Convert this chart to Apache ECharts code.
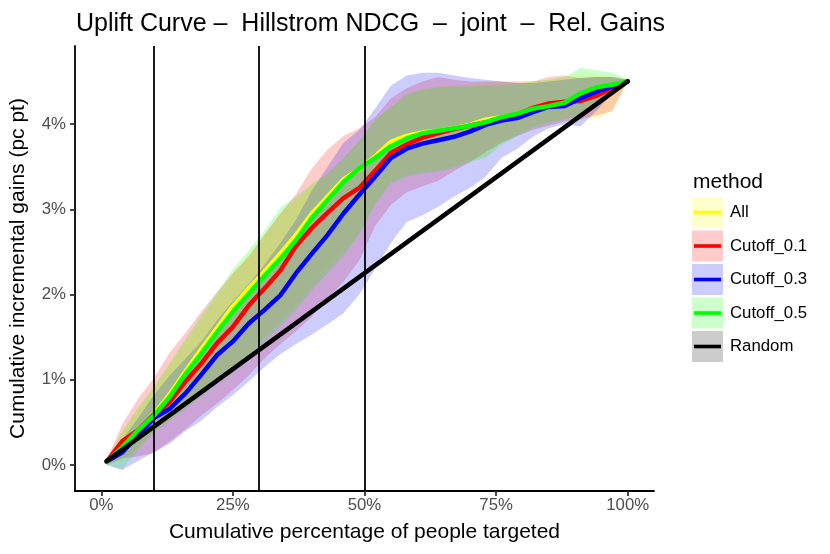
<!DOCTYPE html>
<html><head><meta charset="utf-8">
<script src="https://cdn.jsdelivr.net/npm/echarts@6/dist/echarts.min.js"></script>
<style>html,body{margin:0;padding:0;background:#fff}#c{width:830px;height:554px}</style>
</head><body><div id="c"></div>
<script>
// ---- data (percent units) ----
const xPct = [1,4,7,10,13,16,19,22,25,28,31,34,37,40,43,46,49,52,55,58,61,64,67,70,73,76,79,82,85,88,91,94,97,100];

const allY    = [0.04,0.22,0.40,0.59,0.83,1.10,1.36,1.61,1.86,2.07,2.27,2.48,2.70,2.95,3.15,3.35,3.47,3.62,3.79,3.86,3.90,3.92,3.95,3.99,4.05,4.08,4.11,4.17,4.20,4.24,4.33,4.41,4.45,4.50];
const cut01Y  = [0.04,0.28,0.41,0.59,0.74,0.98,1.19,1.43,1.62,1.87,2.07,2.28,2.57,2.78,2.96,3.13,3.25,3.45,3.66,3.76,3.84,3.89,3.94,3.98,4.02,4.07,4.11,4.19,4.24,4.26,4.27,4.33,4.42,4.50];
const cut03Y  = [0.04,0.15,0.35,0.55,0.66,0.84,1.06,1.29,1.45,1.66,1.82,1.99,2.25,2.48,2.70,2.95,3.17,3.38,3.60,3.71,3.77,3.81,3.85,3.91,3.99,4.04,4.07,4.14,4.20,4.21,4.30,4.38,4.44,4.50];
const cut05Y  = [0.04,0.21,0.41,0.58,0.80,1.07,1.31,1.56,1.80,2.01,2.22,2.42,2.64,2.90,3.11,3.32,3.48,3.60,3.74,3.83,3.89,3.92,3.95,3.98,4.02,4.08,4.12,4.18,4.21,4.25,4.36,4.43,4.46,4.50];

const allUp   = [0.05,0.38,0.65,0.90,1.18,1.45,1.72,1.98,2.25,2.48,2.70,2.95,3.12,3.28,3.42,3.60,3.80,4.05,4.20,4.35,4.42,4.45,4.45,4.46,4.50,4.50,4.48,4.50,4.52,4.54,4.58,4.58,4.56,4.52];
const allLow  = [0.00,0.05,0.20,0.40,0.55,0.70,0.85,1.00,1.12,1.30,1.50,1.68,1.88,2.10,2.30,2.50,2.72,3.08,3.32,3.40,3.45,3.46,3.50,3.57,3.62,3.78,3.88,3.97,4.02,4.06,4.10,4.05,4.15,4.50];
const cut01Up = [0.06,0.48,0.78,1.02,1.32,1.55,1.80,2.03,2.25,2.45,2.70,2.95,3.18,3.48,3.70,3.86,3.95,4.08,4.30,4.42,4.50,4.55,4.52,4.50,4.50,4.50,4.50,4.50,4.55,4.57,4.54,4.55,4.55,4.52];
const cut01Low= [0.00,0.08,0.10,0.14,0.28,0.42,0.58,0.72,0.88,1.05,1.25,1.42,1.57,1.74,1.95,2.15,2.40,2.80,3.05,3.20,3.27,3.33,3.45,3.55,3.67,3.78,3.86,3.93,3.98,4.03,4.05,4.10,4.15,4.50];
const cut03Up = [0.05,0.30,0.55,0.82,1.05,1.25,1.45,1.70,1.92,2.12,2.35,2.60,2.88,3.22,3.50,3.78,3.93,4.18,4.45,4.57,4.60,4.60,4.57,4.54,4.52,4.50,4.48,4.48,4.50,4.52,4.54,4.55,4.55,4.52];
const cut03Low= [0.00,-0.06,0.05,0.15,0.25,0.40,0.52,0.68,0.82,0.98,1.15,1.30,1.42,1.53,1.65,1.78,2.00,2.30,2.60,2.85,2.93,3.03,3.15,3.25,3.38,3.60,3.71,3.85,3.95,4.00,3.97,4.15,4.35,4.50];
const cut05Up = [0.06,0.40,0.68,0.92,1.20,1.48,1.76,2.02,2.30,2.52,2.75,3.02,3.15,3.30,3.42,3.60,3.80,4.05,4.20,4.35,4.40,4.43,4.44,4.44,4.45,4.46,4.47,4.50,4.52,4.55,4.66,4.63,4.60,4.53];
const cut05Low= [0.00,-0.05,0.18,0.38,0.52,0.66,0.80,0.95,1.08,1.25,1.45,1.62,1.82,2.05,2.25,2.45,2.70,3.05,3.30,3.38,3.42,3.44,3.48,3.55,3.60,3.75,3.86,3.95,4.01,4.05,4.10,4.20,4.35,4.50];

const randomX = [1, 100];
const randomY = [0.045, 4.50];

const vLines = [10, 30, 50];
const xTicks = [0, 25, 50, 75, 100];
const yTicks = [0, 1, 2, 3, 4];

const names  = ['All', 'Cutoff_0.1', 'Cutoff_0.3', 'Cutoff_0.5', 'Random'];
const colors = ['#ffff00', '#ff0000', '#0000ff', '#00ff00', '#000000'];
const fills  = ['rgba(255,255,0,0.2)', 'rgba(255,0,0,0.2)', 'rgba(0,0,255,0.2)', 'rgba(0,255,0,0.2)', 'rgba(0,0,0,0.2)'];

const lineData = [allY, cut01Y, cut03Y, cut05Y];
const ups  = [allUp, cut01Up, cut03Up, cut05Up];
const lows = [allLow, cut01Low, cut03Low, cut05Low];

// ---- chart ----
const FONT = 'Liberation Sans, Arial, Helvetica, sans-serif';
const chart = echarts.init(document.getElementById('c'), null, {renderer: 'canvas'});

function ribbon(i) {
  return {
    type: 'custom', name: names[i] + ' band', coordinateSystem: 'cartesian2d',
    data: [[xPct[0], ups[i][0]]], clip: true, silent: true, z: 1, animation: false,
    renderItem: function (params, api) {
      const pts = [];
      for (let k = 0; k < xPct.length; k++) pts.push(api.coord([xPct[k], ups[i][k]]));
      for (let k = xPct.length - 1; k >= 0; k--) pts.push(api.coord([xPct[k], lows[i][k]]));
      return {type: 'polygon', shape: {points: pts}, style: {fill: fills[i], stroke: null}};
    }
  };
}
function line(i, xs, ys) {
  return {
    type: 'line', name: names[i], data: xs.map((x, k) => [x, ys[k]]),
    showSymbol: false, symbol: 'none', z: 3, silent: true, animation: false,
    lineStyle: {color: colors[i], width: 4.5, join: 'round', cap: 'round'}
  };
}

const series = [];
for (let i = 0; i < 4; i++) series.push(ribbon(i));
series.push({
  type: 'line', name: 'vlines', data: [], z: 2, silent: true, animation: false,
  markLine: {
    silent: true, animation: false, symbol: ['none', 'none'], label: {show: false},
    lineStyle: {color: '#000', width: 1.8, type: 'solid'},
    data: vLines.map(v => ({xAxis: v}))
  }
});
for (let i = 0; i < 4; i++) series.push(line(i, xPct, lineData[i]));
series.push(line(4, randomX, randomY));

// legend built as graphic
const legendEls = [];
legendEls.push({type: 'text', left: 693, top: 172, style: {text: 'method', font: '21px ' + FONT, fill: '#000'}});
for (let i = 0; i < names.length; i++) {
  const y0 = 197 + 33.5 * i;
  legendEls.push({type: 'rect', shape: {x: 692, y: y0, width: 31, height: 31}, style: {fill: fills[i]}});
  legendEls.push({type: 'line', shape: {x1: 694, y1: y0 + 15.5, x2: 721, y2: y0 + 15.5}, style: {stroke: colors[i], lineWidth: 3.6}});
  legendEls.push({type: 'text', x: 730, y: y0 + 15.5, style: {text: names[i], font: '16.8px ' + FONT, fill: '#000', verticalAlign: 'middle'}});
}

chart.setOption({
  backgroundColor: '#fff',
  animation: false,
  title: {
    text: 'Uplift Curve \u2013  Hillstrom NDCG  \u2013  joint  \u2013  Rel. Gains',
    left: 71, top: 7,
    textStyle: {fontFamily: FONT, fontSize: 25, fontWeight: 'normal', color: '#000'}
  },
  grid: {left: 75, right: 176, top: 46, bottom: 63, containLabel: false, outerBoundsMode: 'none'},
  xAxis: {
    type: 'value', min: -5, max: 105,
    splitLine: {show: false},
    axisLine: {show: true, onZero: false, lineStyle: {color: '#000', width: 1.8}},
    axisTick: {show: true, length: 5, customValues: xTicks, lineStyle: {color: '#333', width: 1.8}},
    axisLabel: {customValues: xTicks, formatter: v => v + '%', color: '#4d4d4d', fontFamily: FONT, fontSize: 16.8, margin: 6},
    name: 'Cumulative percentage of people targeted', nameLocation: 'middle', nameGap: 31,
    nameTextStyle: {fontFamily: FONT, fontSize: 21, color: '#000'}
  },
  yAxis: {
    type: 'value', min: -0.305, max: 4.915,
    splitLine: {show: false},
    axisLine: {show: true, onZero: false, lineStyle: {color: '#000', width: 1.8}},
    axisTick: {show: true, length: 5, customValues: yTicks, lineStyle: {color: '#333', width: 1.8}},
    axisLabel: {customValues: yTicks, formatter: v => v + '%', color: '#4d4d4d', fontFamily: FONT, fontSize: 16.8, margin: 9},
    name: 'Cumulative incremental gains (pc pt)', nameLocation: 'middle', nameGap: 46,
    nameTextStyle: {fontFamily: FONT, fontSize: 21, color: '#000'}
  },
  graphic: legendEls,
  series: series
});
</script></body></html>
